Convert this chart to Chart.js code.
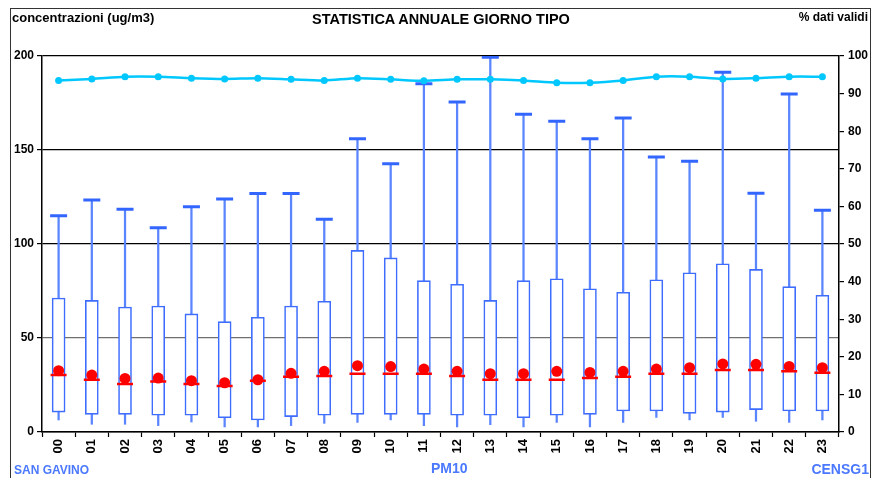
<!DOCTYPE html>
<html>
<head>
<meta charset="utf-8">
<script src="https://cdn.jsdelivr.net/npm/chart.js@4.4.1/dist/chart.umd.min.js"></script>
<style>
  html, body { margin: 0; padding: 0; background: #fff; }
  #wrap { position: relative; width: 872px; height: 478px; overflow: hidden; font-family: "Liberation Sans", Arial, sans-serif; }
  #frame { position: absolute; left: 10px; top: 8px; width: 861px; height: 480px; border: 1px solid #333; box-sizing: border-box; }
  canvas { position: absolute; left: 0; top: 0; }
  .lbl { position: absolute; font-weight: bold; white-space: nowrap; line-height: 1; }
</style>
</head>
<body>
<div id="wrap">
  <div id="frame"></div>
  <canvas id="c" width="872" height="478"></canvas>
  <div class="lbl" style="left:12px; top:11px; font-size:13px; color:#000;">concentrazioni (ug/m3)</div>
  <div class="lbl" style="left:0; width:882px; text-align:center; top:12px; font-size:14.5px; color:#000;">STATISTICA ANNUALE GIORNO TIPO</div>
  <div class="lbl" style="right:4px; top:11px; font-size:12px; color:#000;">% dati validi</div>
  <div class="lbl" style="left:14px; top:464px; font-size:12px; color:#4A78FF;">SAN GAVINO</div>
  <div class="lbl" style="left:431px; top:461px; font-size:14px; color:#4A78FF;">PM10</div>
  <div class="lbl" style="right:3px; top:462px; font-size:14px; color:#4A78FF;">CENSG1</div>
</div>
<script>
// Hours of the typical day
const hours = ['00','01','02','03','04','05','06','07','08','09','10','11',
               '12','13','14','15','16','17','18','19','20','21','22','23'];

// PM10 concentration statistics per hour (ug/m3)
const whiskerMax = [115.0,123.4,118.5,108.7,119.8,123.9,126.8,126.8,113.1,156.0,142.7,185.3,
                    175.5,199.3,169.0,165.3,156.0,167.0,146.3,144.0,191.3,127.0,179.8,117.9];
const boxHigh    = [71.3,70.0,66.5,67.0,62.8,58.7,61.0,67.0,69.5,96.6,92.6,80.5,
                    78.6,70.0,80.5,81.5,76.2,74.3,81.0,84.7,89.5,86.5,77.3,72.7];
const boxLow     = [10.6,9.4,9.4,8.9,8.9,7.6,6.4,8.2,8.9,9.4,9.4,9.4,
                    8.9,8.9,7.6,8.9,9.4,11.2,11.2,9.9,10.6,11.9,11.2,11.2];
const whiskerMin = [6.4,4.1,4.1,3.4,5.3,2.7,2.7,3.4,4.6,5.1,6.4,3.4,
                    2.7,3.9,2.7,5.1,2.7,5.1,7.8,6.4,7.8,5.7,5.1,6.4];
const medians    = [30.3,27.8,25.5,26.8,25.5,24.5,27.3,29.4,29.8,31.0,31.0,31.0,
                    29.8,27.8,27.8,27.8,28.7,29.4,31.0,31.0,33.0,33.0,32.3,31.5];
const means      = [32.6,30.3,28.5,28.7,27.3,26.2,27.8,31.2,32.3,35.3,34.8,33.5,
                    32.3,31.0,31.0,32.3,31.7,32.3,33.5,34.2,36.2,36.0,34.9,34.2];

// Share of valid data per hour (%)
const validPct   = [93.5,93.9,94.5,94.5,94.1,93.9,94.1,93.8,93.5,94.1,93.8,93.4,
                    93.8,93.8,93.5,92.9,92.9,93.5,94.5,94.5,93.9,94.1,94.5,94.5];

// Axis tick settings
const concTicks = { min: 0, max: 200, step: 50 };
const pctTicks  = { min: 0, max: 100, step: 10 };

const yFont = { family: '"Liberation Sans", Arial, sans-serif', size: 12, weight: 'bold' };
const xFont = { family: '"Liberation Sans", Arial, sans-serif', size: 13, weight: 'bold' };

const whiskers = hours.map((h, i) => [whiskerMin[i], whiskerMax[i]]);
const boxes    = hours.map((h, i) => [boxLow[i], boxHigh[i]]);

new Chart(document.getElementById('c'), {
  data: {
    labels: hours,
    datasets: [
      { type: 'line', label: '% dati validi', data: validPct, yAxisID: 'y2', order: 1,
        borderColor: '#00C8FF', backgroundColor: '#00C8FF', borderWidth: 2.5,
        pointRadius: 3.5, pointBorderWidth: 0, tension: 0.25 },
      { type: 'line', label: 'mediana', data: medians, yAxisID: 'y', order: 2,
        showLine: false, pointStyle: 'line', pointRadius: 8, pointBorderWidth: 2.5,
        borderColor: '#FF0000', backgroundColor: '#FF0000' },
      { type: 'line', label: 'media', data: means, yAxisID: 'y', order: 3,
        showLine: false, pointStyle: 'circle', pointRadius: 5.5, pointBorderWidth: 0,
        borderColor: '#FF0000', backgroundColor: '#FF0000' },
      { type: 'line', label: 'massimo', data: whiskerMax, yAxisID: 'y', order: 4,
        showLine: false, pointStyle: 'line', pointRadius: 8.5, pointBorderWidth: 3,
        borderColor: '#3366FF', backgroundColor: '#3366FF' },
      { type: 'bar', label: 'box', data: boxes, yAxisID: 'y', order: 5, grouped: false,
        barThickness: 13, backgroundColor: '#FFFFFF', borderColor: '#3D6CFF',
        borderWidth: 1.6, borderSkipped: false },
      { type: 'bar', label: 'baffi', data: whiskers, yAxisID: 'y', order: 6, grouped: false,
        barThickness: 1.6, backgroundColor: '#5A85FF', borderWidth: 0 }
    ]
  },
  options: {
    responsive: false,
    animation: false,
    events: [],
    layout: { padding: { top: 56, left: 0, right: 0, bottom: 0 } },
    plugins: { legend: { display: false }, tooltip: { enabled: false }, title: { display: false } },
    scales: {
      x: {
        type: 'category',
        offset: true,
        grid: { offset: true, drawOnChartArea: false, tickLength: 5, tickColor: '#000', tickWidth: 1.2 },
        border: { color: '#000', width: 1.5 },
        ticks: { color: '#000', font: xFont, minRotation: 90, maxRotation: 90, padding: 2, autoSkip: false },
        afterFit: s => { s.height = 46; }
      },
      y: {
        position: 'left',
        min: concTicks.min, max: concTicks.max,
        grid: {
          color: ctx => (ctx.tick && ctx.tick.value === 50) ? '#707070' : '#000',
          lineWidth: 1.2, tickLength: 5, tickColor: '#000'
        },
        border: { color: '#000', width: 1.5 },
        ticks: { stepSize: concTicks.step, color: '#000', font: yFont, padding: 3 },
        afterFit: s => { s.width = 42; }
      },
      y2: {
        position: 'right',
        min: pctTicks.min, max: pctTicks.max,
        grid: { drawOnChartArea: false, tickLength: 5, tickColor: '#000', lineWidth: 1.2 },
        border: { color: '#000', width: 1.5 },
        ticks: { stepSize: pctTicks.step, color: '#000', font: yFont, padding: 4 },
        afterFit: s => { s.width = 33; }
      }
    }
  }
});
</script>
</body>
</html>
